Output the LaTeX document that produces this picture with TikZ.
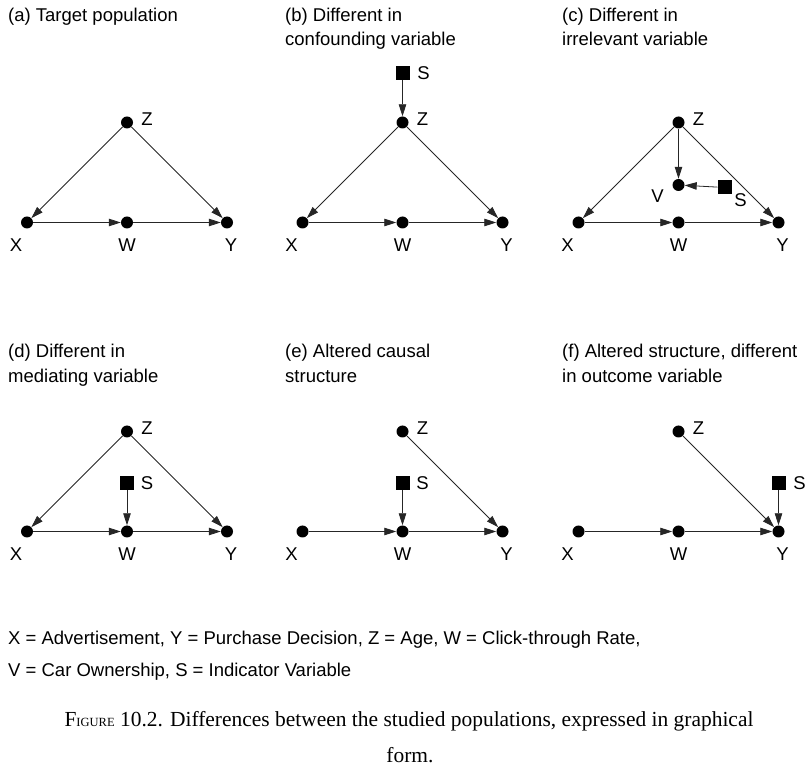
\documentclass[tikz,border=0pt]{standalone}
\usepackage{fontspec}
\setmainfont{Liberation Sans}
\newfontfamily\capfont{Liberation Serif}
\usetikzlibrary{arrows.meta}
\tikzset{
  dot/.style={circle,fill=black,minimum size=12pt,inner sep=0pt},
  sq/.style={rectangle,fill=black,minimum size=14pt,inner sep=0pt},
  lab/.style={inner sep=0pt,font=\fontsize{18.5}{22}\selectfont},
  ttl/.style={inner sep=0pt,anchor=base west,font=\fontsize{18.5}{22}\selectfont},
  capt/.style={inner sep=0pt,anchor=base,font=\capfont\fontsize{21.45}{26}\selectfont},
  edge/.style={draw=black!85,line width=0.8pt,-{Triangle[length=12pt,width=7.5pt]}},
}
\begin{document}
\begin{tikzpicture}[x=1pt,y=-1pt]
\useasboundingbox (0,0) rectangle (807,767);
% titles
\node[ttl] (ta) at (8,21.5) {(a) Target population};
\node[ttl] (tb1) at (285,21.5) {(b) Different in};
\node[ttl] (tb2) at (285,45.5) {confounding variable};
\node[ttl] (tc1) at (562,21.5) {(c) Different in};
\node[ttl] (tc2) at (562,45.5) {irrelevant variable};
\node[ttl] (td1) at (8,357.5) {(d) Different in};
\node[ttl] (td2) at (8,382.5) {mediating variable};
\node[ttl] (te1) at (285,357.5) {(e) Altered causal};
\node[ttl] (te2) at (285,382.5) {structure};
\node[ttl] (tf1) at (562,357.5) {(f) Altered structure, different};
\node[ttl] (tf2) at (562,382.5) {in outcome variable};
% panel a
\begin{scope}[shift={(27,222.5)}]
\node[dot] (aX) at (0,0) {};
\node[dot] (aW) at (100,0) {};
\node[dot] (aY) at (200,0) {};
\node[dot] (aZ) at (100,-100) {};
\node[lab] (aXl) at (-11,23) {X};
\node[lab] (aWl) at (100,23) {W};
\node[lab] (aYl) at (204,23) {Y};
\node[lab] (aZl) at (120,-103) {Z};
\draw[edge] (aZ) -- (aX);
\draw[edge] (aZ) -- (aY);
\draw[edge] (aX) -- (aW);
\draw[edge] (aW) -- (aY);
\end{scope}
% panel b
\begin{scope}[shift={(302.5,222.5)}]
\node[dot] (bX) at (0,0) {};
\node[dot] (bW) at (100,0) {};
\node[dot] (bY) at (200,0) {};
\node[dot] (bZ) at (100,-100) {};
\node[sq] (bS) at (100,-149.5) {};
\node[lab] (bXl) at (-11,23) {X};
\node[lab] (bWl) at (100,23) {W};
\node[lab] (bYl) at (204,23) {Y};
\node[lab] (bZl) at (120,-103) {Z};
\node[lab] (bSl) at (121,-149.5) {S};
\draw[edge] (bS) -- (bZ);
\draw[edge] (bZ) -- (bX);
\draw[edge] (bZ) -- (bY);
\draw[edge] (bX) -- (bW);
\draw[edge] (bW) -- (bY);
\end{scope}
% panel c
\begin{scope}[shift={(578.5,222.5)}]
\node[dot] (cX) at (0,0) {};
\node[dot] (cW) at (100,0) {};
\node[dot] (cY) at (200,0) {};
\node[dot] (cZ) at (100,-100) {};
\node[dot] (cV) at (100,-37.5) {};
\node[sq] (cS) at (146,-35) {};
\node[lab] (cXl) at (-11,23) {X};
\node[lab] (cWl) at (100,23) {W};
\node[lab] (cYl) at (204,23) {Y};
\node[lab] (cZl) at (120,-103) {Z};
\node[lab] (cVl) at (79,-26) {V};
\node[lab] (cSl) at (162,-22.5) {S};
\draw[edge] (cZ) -- (cX);
\draw[edge] (cZ) -- (cY);
\draw[edge] (cZ) -- (cV);
\draw[edge] (cS) -- (cV);
\draw[edge] (cX) -- (cW);
\draw[edge] (cW) -- (cY);
\end{scope}
% panel d
\begin{scope}[shift={(27,531.5)}]
\node[dot] (dX) at (0,0) {};
\node[dot] (dW) at (100,0) {};
\node[dot] (dY) at (200,0) {};
\node[dot] (dZ) at (100,-100) {};
\node[sq] (dS) at (100,-48.5) {};
\node[lab] (dXl) at (-11,23) {X};
\node[lab] (dWl) at (100,23) {W};
\node[lab] (dYl) at (204,23) {Y};
\node[lab] (dZl) at (120,-103) {Z};
\node[lab] (dSl) at (120,-48.5) {S};
\draw[edge] (dZ) -- (dX);
\draw[edge] (dZ) -- (dY);
\draw[edge] (dS) -- (dW);
\draw[edge] (dX) -- (dW);
\draw[edge] (dW) -- (dY);
\end{scope}
% panel e
\begin{scope}[shift={(302.5,531.5)}]
\node[dot] (eX) at (0,0) {};
\node[dot] (eW) at (100,0) {};
\node[dot] (eY) at (200,0) {};
\node[dot] (eZ) at (100,-100) {};
\node[sq] (eS) at (100,-48.5) {};
\node[lab] (eXl) at (-11,23) {X};
\node[lab] (eWl) at (100,23) {W};
\node[lab] (eYl) at (204,23) {Y};
\node[lab] (eZl) at (120,-103) {Z};
\node[lab] (eSl) at (120,-48.5) {S};
\draw[edge] (eZ) -- (eY);
\draw[edge] (eS) -- (eW);
\draw[edge] (eX) -- (eW);
\draw[edge] (eW) -- (eY);
\end{scope}
% panel f
\begin{scope}[shift={(578.5,531.5)}]
\node[dot] (fX) at (0,0) {};
\node[dot] (fW) at (100,0) {};
\node[dot] (fY) at (200,0) {};
\node[dot] (fZ) at (100,-100) {};
\node[sq] (fS) at (200,-48.5) {};
\node[lab] (fXl) at (-11,23) {X};
\node[lab] (fWl) at (100,23) {W};
\node[lab] (fYl) at (204,23) {Y};
\node[lab] (fZl) at (120,-103) {Z};
\node[lab] (fSl) at (221,-48.5) {S};
\draw[edge] (fZ) -- (fY);
\draw[edge] (fS) -- (fY);
\draw[edge] (fX) -- (fW);
\draw[edge] (fW) -- (fY);
\end{scope}
% legend
\node[ttl] (leg1) at (8,644.5) {X = Advertisement, Y = Purchase Decision, Z = Age, W = Click-through Rate,};
\node[ttl] (leg2) at (8,676.5) {V = Car Ownership, S = Indicator Variable};
% caption
\node[capt] (cap1) at (409,726) {F{\fontsize{12.5}{15}\selectfont IGURE} 10.2. Differences between the studied populations, expressed in graphical};
\node[capt] (cap2) at (410,762) {form.};
\end{tikzpicture}
\end{document}
